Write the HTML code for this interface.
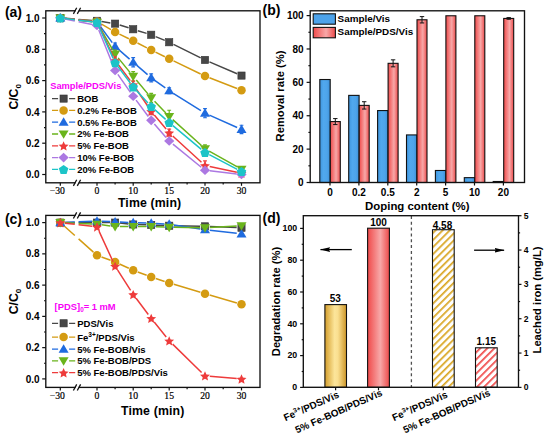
<!DOCTYPE html>
<html><head><meta charset="utf-8"><style>
html,body{margin:0;padding:0;background:#fff;}
svg{display:block;}
</style></head><body>
<svg width="550" height="440" viewBox="0 0 550 440">
<defs>
<linearGradient id="gb" x1="0" x2="1" y1="0" y2="0"><stop offset="0" stop-color="#3F95DD"/><stop offset="0.35" stop-color="#50A8EE"/><stop offset="0.7" stop-color="#4EA4EA"/><stop offset="1" stop-color="#3A8ED6"/></linearGradient>
<linearGradient id="gr" x1="0" x2="1" y1="0" y2="0"><stop offset="0" stop-color="#F04A4A"/><stop offset="0.58" stop-color="#F7A8A8"/><stop offset="1" stop-color="#EC4A4A"/></linearGradient>
<linearGradient id="gg" x1="0" x2="1" y1="0" y2="0"><stop offset="0" stop-color="#D49E2C"/><stop offset="0.45" stop-color="#FCE59A"/><stop offset="0.6" stop-color="#FADF90"/><stop offset="1" stop-color="#CC9628"/></linearGradient>
<pattern id="hg" width="5" height="5" patternUnits="userSpaceOnUse" patternTransform="rotate(45)"><rect width="5" height="5" fill="#fff"/><rect width="1.7" height="5" fill="#D9A521"/></pattern>
<pattern id="hr" width="5" height="5" patternUnits="userSpaceOnUse" patternTransform="rotate(45)"><rect width="5" height="5" fill="#fff"/><rect width="1.7" height="5" fill="#F04848"/></pattern>
<marker id="ah" markerWidth="10" markerHeight="5" refX="9.6" refY="2.5" orient="auto" markerUnits="userSpaceOnUse"><path d="M0 0.2L10 2.5L0 4.8L1.2 2.5Z" fill="#000"/></marker>
</defs>
<rect width="550" height="440" fill="#fff"/>
<path d="M65.09 18.37L74.8 19.11M78.6 19.4L92.21 20.45M101.74 21.56L110.36 22.9M119.68 25.06L128.62 27.84M137.79 30.67L146.61 33.35M155.63 36.59L164.77 40.41M173.5 44.38L200.7 57.82M209.41 61.83L237.09 73.7" stroke="#474747" stroke-width="1.5" fill="none"/>
<rect x="56.7" y="14.4" width="7.2" height="7.2" fill="#474747" stroke="#333" stroke-width="0.6"/>
<rect x="93.4" y="17.22" width="7.2" height="7.2" fill="#474747" stroke="#333" stroke-width="0.6"/>
<rect x="111.5" y="20.03" width="7.2" height="7.2" fill="#474747" stroke="#333" stroke-width="0.6"/>
<rect x="129.6" y="25.67" width="7.2" height="7.2" fill="#474747" stroke="#333" stroke-width="0.6"/>
<rect x="147.6" y="31.15" width="7.2" height="7.2" fill="#474747" stroke="#333" stroke-width="0.6"/>
<rect x="165.6" y="38.66" width="7.2" height="7.2" fill="#474747" stroke="#333" stroke-width="0.6"/>
<rect x="201.4" y="56.34" width="7.2" height="7.2" fill="#474747" stroke="#333" stroke-width="0.6"/>
<rect x="237.9" y="71.99" width="7.2" height="7.2" fill="#474747" stroke="#333" stroke-width="0.6"/>
<path d="M65.08 18.45L74.8 19.36M78.6 19.72L92.22 20.99M101.14 23.88L110.96 29.65M119.42 34.18L128.88 38.76M137.47 43.04L146.93 47.89M155.52 52.18L164.88 56.75M173.53 60.93L200.67 73.98M209.47 77.81L237.03 88.56" stroke="#D49B12" stroke-width="1.5" fill="none"/>
<circle cx="60.3" cy="18" r="4.25" fill="#D49B12"/>
<circle cx="97" cy="21.44" r="4.25" fill="#D49B12"/>
<circle cx="115.1" cy="32.09" r="4.25" fill="#D49B12"/>
<circle cx="133.2" cy="40.85" r="4.25" fill="#D49B12"/>
<circle cx="151.2" cy="50.08" r="4.25" fill="#D49B12"/>
<circle cx="169.2" cy="58.85" r="4.25" fill="#D49B12"/>
<circle cx="205" cy="76.06" r="4.25" fill="#D49B12"/>
<circle cx="241.5" cy="90.3" r="4.25" fill="#D49B12"/>
<path d="M65.07 18.51L74.8 19.55M78.6 19.95L92.23 21.4M99.85 25.78L112.25 42.62M118.72 49.64L129.58 59.13M136.84 65.42L147.56 74.65M155.09 80.59L165.31 87.96M173.27 93.32L200.93 110.61M209.38 115.11L237.12 127.47" stroke="#1F6BDF" stroke-width="1.5" fill="none"/>
<polygon points="60.3,13.13 65.3,21.53 55.3,21.53" fill="#1F6BDF"/>
<polygon points="97,17.04 102,25.44 92,25.44" fill="#1F6BDF"/>
<path d="M115.1 42.98V49.98M113.2 42.98H117M113.2 49.98H117" stroke="#1F6BDF" stroke-width="1.2"/>
<polygon points="115.1,41.61 120.1,50.01 110.1,50.01" fill="#1F6BDF"/>
<path d="M133.2 57.69V66.89M131.3 57.69H135.1M131.3 66.89H135.1" stroke="#1F6BDF" stroke-width="1.2"/>
<polygon points="133.2,57.42 138.2,65.82 128.2,65.82" fill="#1F6BDF"/>
<path d="M151.2 73.78V81.78M149.3 73.78H153.1M149.3 81.78H153.1" stroke="#1F6BDF" stroke-width="1.2"/>
<polygon points="151.2,72.91 156.2,81.31 146.2,81.31" fill="#1F6BDF"/>
<path d="M169.2 87.77V93.77M167.3 87.77H171.1M167.3 93.77H171.1" stroke="#1F6BDF" stroke-width="1.2"/>
<polygon points="169.2,85.9 174.2,94.3 164.2,94.3" fill="#1F6BDF"/>
<path d="M205 108.55V117.75M203.1 108.55H206.9M203.1 117.75H206.9" stroke="#1F6BDF" stroke-width="1.2"/>
<polygon points="205,108.28 210,116.68 200,116.68" fill="#1F6BDF"/>
<path d="M241.5 125.23V133.63M239.6 125.23H243.4M239.6 133.63H243.4" stroke="#1F6BDF" stroke-width="1.2"/>
<polygon points="241.5,124.56 246.5,132.96 236.5,132.96" fill="#1F6BDF"/>
<path d="M65.07 18.57L74.8 19.73M78.6 20.19L92.23 21.81M99.38 26.55L112.72 49.98M118.13 57.87L130.17 72.65M136.29 80.05L148.11 94.14M154.54 101.27L165.86 112.99M172.77 119.65L201.43 145.47M209.18 151.04L237.32 166.97" stroke="#6AB41C" stroke-width="1.5" fill="none"/>
<polygon points="60.3,22.87 65.3,14.47 55.3,14.47" fill="#6AB41C"/>
<polygon points="97,27.25 102,18.85 92,18.85" fill="#6AB41C"/>
<path d="M115.1 50.15V58.15M113.2 50.15H117M113.2 58.15H117" stroke="#6AB41C" stroke-width="1.2"/>
<polygon points="115.1,59.02 120.1,50.62 110.1,50.62" fill="#6AB41C"/>
<path d="M133.2 71.57V81.17M131.3 71.57H135.1M131.3 81.17H135.1" stroke="#6AB41C" stroke-width="1.2"/>
<polygon points="133.2,81.25 138.2,72.85 128.2,72.85" fill="#6AB41C"/>
<path d="M151.2 93.31V102.31M149.3 93.31H153.1M149.3 102.31H153.1" stroke="#6AB41C" stroke-width="1.2"/>
<polygon points="151.2,102.69 156.2,94.29 146.2,94.29" fill="#6AB41C"/>
<path d="M169.2 110.24V122.64M167.3 110.24H171.1M167.3 122.64H171.1" stroke="#6AB41C" stroke-width="1.2"/>
<polygon points="169.2,121.31 174.2,112.91 164.2,112.91" fill="#6AB41C"/>
<path d="M205 144.88V152.48M203.1 144.88H206.9M203.1 152.48H206.9" stroke="#6AB41C" stroke-width="1.2"/>
<polygon points="205,153.55 210,145.15 200,145.15" fill="#6AB41C"/>
<polygon points="241.5,174.21 246.5,165.81 236.5,165.81" fill="#6AB41C"/>
<path d="M65.07 18.51L74.8 19.55M78.6 19.95L92.23 21.4M99.04 26.26L113.06 56.07M117.98 64.25L130.32 80.67M135.88 88.5L148.52 107.29M154.29 114.95L166.11 129.04M172.74 135.95L201.46 162.19M209.69 166.43L236.81 172.24" stroke="#EE3B3B" stroke-width="1.5" fill="none"/>
<polygon points="60.3,13.4 61.74,16.62 65.25,16.99 62.62,19.36 63.36,22.81 60.3,21.04 57.24,22.81 57.98,19.36 55.35,16.99 58.86,16.62" fill="#EE3B3B"/>
<polygon points="97,17.31 98.44,20.54 101.95,20.91 99.32,23.27 100.06,26.72 97,24.96 93.94,26.72 94.68,23.27 92.05,20.91 95.56,20.54" fill="#EE3B3B"/>
<path d="M115.1 56.91V63.91M113.2 56.91H117M113.2 63.91H117" stroke="#EE3B3B" stroke-width="1.2"/>
<polygon points="115.1,55.81 116.54,59.03 120.05,59.4 117.42,61.77 118.16,65.22 115.1,63.46 112.04,65.22 112.78,61.77 110.15,59.4 113.66,59.03" fill="#EE3B3B"/>
<path d="M133.2 81.01V88.01M131.3 81.01H135.1M131.3 88.01H135.1" stroke="#EE3B3B" stroke-width="1.2"/>
<polygon points="133.2,79.91 134.64,83.14 138.15,83.51 135.52,85.87 136.26,89.32 133.2,87.56 130.14,89.32 130.88,85.87 128.25,83.51 131.76,83.14" fill="#EE3B3B"/>
<path d="M151.2 107.77V114.77M149.3 107.77H153.1M149.3 114.77H153.1" stroke="#EE3B3B" stroke-width="1.2"/>
<polygon points="151.2,106.67 152.64,109.9 156.15,110.27 153.52,112.63 154.26,116.08 151.2,114.32 148.14,116.08 148.88,112.63 146.25,110.27 149.76,109.9" fill="#EE3B3B"/>
<path d="M169.2 129.21V136.21M167.3 129.21H171.1M167.3 136.21H171.1" stroke="#EE3B3B" stroke-width="1.2"/>
<polygon points="169.2,128.11 170.64,131.34 174.15,131.71 171.52,134.07 172.26,137.52 169.2,135.76 166.14,137.52 166.88,134.07 164.25,131.71 167.76,131.34" fill="#EE3B3B"/>
<path d="M205 160.92V169.92M203.1 160.92H206.9M203.1 169.92H206.9" stroke="#EE3B3B" stroke-width="1.2"/>
<polygon points="205,160.82 206.44,164.05 209.95,164.42 207.32,166.78 208.06,170.23 205,168.47 201.94,170.23 202.68,166.78 200.05,164.42 203.56,164.05" fill="#EE3B3B"/>
<polygon points="241.5,168.65 242.94,171.87 246.45,172.24 243.82,174.6 244.56,178.05 241.5,176.29 238.44,178.05 239.18,174.6 236.55,172.24 240.06,171.87" fill="#EE3B3B"/>
<path d="M65 18.96L74.8 20.97M78.6 21.75L92.3 24.55M98.79 29.96L113.31 65.98M117.86 74.36L130.44 92.32M136.07 100.1L148.33 116.51M154.35 123.97L166.05 137.39M172.92 144.05L201.28 167.24M209.77 170.83L236.73 173.95" stroke="#AC78E2" stroke-width="1.5" fill="none"/>
<polygon points="60.3,13.2 65.4,18 60.3,22.8 55.2,18" fill="#AC78E2"/>
<polygon points="97,20.71 102.1,25.51 97,30.31 91.9,25.51" fill="#AC78E2"/>
<polygon points="115.1,65.63 120.2,70.43 115.1,75.23 110,70.43" fill="#AC78E2"/>
<polygon points="133.2,91.45 138.3,96.25 133.2,101.05 128.1,96.25" fill="#AC78E2"/>
<polygon points="151.2,115.55 156.3,120.35 151.2,125.15 146.1,120.35" fill="#AC78E2"/>
<polygon points="169.2,136.21 174.3,141.01 169.2,145.81 164.1,141.01" fill="#AC78E2"/>
<polygon points="205,165.47 210.1,170.27 205,175.07 199.9,170.27" fill="#AC78E2"/>
<polygon points="241.5,169.7 246.6,174.5 241.5,179.3 236.4,174.5" fill="#AC78E2"/>
<path d="M65.07 18.57L74.8 19.73M78.6 20.19L92.23 21.81M98.96 26.76L113.14 58.38M117.98 66.6L130.32 83.02M136.45 90.39L147.95 102.89M154.78 109.62L165.62 119.34M172.88 125.62L201.32 149.36M209.25 154.66L237.25 169.3" stroke="#1CC4C8" stroke-width="1.5" fill="none"/>
<polygon points="60.3,13.5 65.06,16.95 63.24,22.55 57.36,22.55 55.54,16.95" fill="#1CC4C8"/>
<polygon points="97,17.88 101.76,21.34 99.94,26.93 94.06,26.93 92.24,21.34" fill="#1CC4C8"/>
<polygon points="115.1,58.26 119.86,61.71 118.04,67.3 112.16,67.3 110.34,61.71" fill="#1CC4C8"/>
<polygon points="133.2,82.36 137.96,85.81 136.14,91.41 130.26,91.41 128.44,85.81" fill="#1CC4C8"/>
<polygon points="151.2,101.92 155.96,105.38 154.14,110.97 148.26,110.97 146.44,105.38" fill="#1CC4C8"/>
<polygon points="169.2,118.04 173.96,121.5 172.14,127.09 166.26,127.09 164.44,121.5" fill="#1CC4C8"/>
<polygon points="205,147.93 209.76,151.39 207.94,156.98 202.06,156.98 200.24,151.39" fill="#1CC4C8"/>
<polygon points="241.5,167.03 246.26,170.48 244.44,176.07 238.56,176.07 236.74,170.48" fill="#1CC4C8"/>
<rect x="45.8" y="10.8" width="214.2" height="172" fill="none" stroke="#111" stroke-width="1.35"/>
<rect x="75.6" y="9.6" width="3.2" height="2.4" fill="#fff"/>
<path d="M73.4 13.9L76.7 7.8M77.3 13.9L80.6 7.8" stroke="#111" stroke-width="1.3"/>
<rect x="75.6" y="181.6" width="3.2" height="2.4" fill="#fff"/>
<path d="M73.4 185.9L76.7 179.8M77.3 185.9L80.6 179.8" stroke="#111" stroke-width="1.3"/>
<path d="M42.2 174.5H45.8" stroke="#111" stroke-width="1.2"/>
<text x="39.6" y="178.1" font-family='"Liberation Sans", sans-serif' font-size="10" font-weight="bold" fill="#000" text-anchor="end" >0.0</text>
<path d="M44 158.85H45.8" stroke="#111" stroke-width="1.2"/>
<path d="M42.2 143.2H45.8" stroke="#111" stroke-width="1.2"/>
<text x="39.6" y="146.8" font-family='"Liberation Sans", sans-serif' font-size="10" font-weight="bold" fill="#000" text-anchor="end" >0.2</text>
<path d="M44 127.55H45.8" stroke="#111" stroke-width="1.2"/>
<path d="M42.2 111.9H45.8" stroke="#111" stroke-width="1.2"/>
<text x="39.6" y="115.5" font-family='"Liberation Sans", sans-serif' font-size="10" font-weight="bold" fill="#000" text-anchor="end" >0.4</text>
<path d="M44 96.25H45.8" stroke="#111" stroke-width="1.2"/>
<path d="M42.2 80.6H45.8" stroke="#111" stroke-width="1.2"/>
<text x="39.6" y="84.2" font-family='"Liberation Sans", sans-serif' font-size="10" font-weight="bold" fill="#000" text-anchor="end" >0.6</text>
<path d="M44 64.95H45.8" stroke="#111" stroke-width="1.2"/>
<path d="M42.2 49.3H45.8" stroke="#111" stroke-width="1.2"/>
<text x="39.6" y="52.9" font-family='"Liberation Sans", sans-serif' font-size="10" font-weight="bold" fill="#000" text-anchor="end" >0.8</text>
<path d="M44 33.65H45.8" stroke="#111" stroke-width="1.2"/>
<path d="M42.2 18H45.8" stroke="#111" stroke-width="1.2"/>
<text x="39.6" y="21.6" font-family='"Liberation Sans", sans-serif' font-size="10" font-weight="bold" fill="#000" text-anchor="end" >1.0</text>
<path d="M60.3 182.8V185.8" stroke="#111" stroke-width="1.2"/>
<text x="64.9" y="194.4" font-family='"Liberation Serif", serif' font-size="9.7" font-weight="normal" fill="#000" text-anchor="end" stroke="#000" stroke-width="0.2">−30</text>
<path d="M97 182.8V185.8" stroke="#111" stroke-width="1.2"/>
<text x="97" y="194.4" font-family='"Liberation Serif", serif' font-size="9.7" font-weight="normal" fill="#000" text-anchor="middle" stroke="#000" stroke-width="0.2">0</text>
<path d="M133.2 182.8V185.8" stroke="#111" stroke-width="1.2"/>
<text x="133.2" y="194.4" font-family='"Liberation Serif", serif' font-size="9.7" font-weight="normal" fill="#000" text-anchor="middle" stroke="#000" stroke-width="0.2">10</text>
<path d="M169.2 182.8V185.8" stroke="#111" stroke-width="1.2"/>
<text x="169.2" y="194.4" font-family='"Liberation Serif", serif' font-size="9.7" font-weight="normal" fill="#000" text-anchor="middle" stroke="#000" stroke-width="0.2">15</text>
<path d="M205 182.8V185.8" stroke="#111" stroke-width="1.2"/>
<text x="205" y="194.4" font-family='"Liberation Serif", serif' font-size="9.7" font-weight="normal" fill="#000" text-anchor="middle" stroke="#000" stroke-width="0.2">20</text>
<path d="M241.5 182.8V185.8" stroke="#111" stroke-width="1.2"/>
<text x="241.5" y="194.4" font-family='"Liberation Serif", serif' font-size="9.7" font-weight="normal" fill="#000" text-anchor="middle" stroke="#000" stroke-width="0.2">30</text>
<path d="M115.1 182.8V184.6" stroke="#111" stroke-width="1.2"/>
<path d="M151.2 182.8V184.6" stroke="#111" stroke-width="1.2"/>
<path d="M187.1 182.8V184.6" stroke="#111" stroke-width="1.2"/>
<path d="M223.2 182.8V184.6" stroke="#111" stroke-width="1.2"/>
<text x="117.9" y="206.6" font-family='"Liberation Sans", sans-serif' font-size="12.3" font-weight="bold" fill="#000" text-anchor="start" letter-spacing="0.15">Time (min)</text>
<text transform="translate(17.6 109.6) rotate(-90)" x="0" y="0" font-family='"Liberation Sans", sans-serif' font-size="12.2" font-weight="bold">C/C<tspan font-size="8" dy="3.6">0</tspan></text>
<text x="4.9" y="16.8" font-family='"Liberation Sans", sans-serif' font-size="14" font-weight="bold" fill="#000" text-anchor="start" >(a)</text>
<text x="50.2" y="88.8" font-family='"Liberation Sans", sans-serif' font-size="9.3" font-weight="bold" fill="#F700F7" text-anchor="start" >Sample/PDS/Vis</text>
<path d="M52.0 98.6H58.1M69.1 98.6H75.2" stroke="#474747" stroke-width="1.3"/>
<rect x="60" y="95" width="7.2" height="7.2" fill="#474747" stroke="#333" stroke-width="0.6"/>
<text x="77.2" y="102" font-family='"Liberation Sans", sans-serif' font-size="9.5" font-weight="bold" fill="#000" text-anchor="start" >BOB</text>
<path d="M52.0 110.4H58.1M69.1 110.4H75.2" stroke="#D49B12" stroke-width="1.3"/>
<circle cx="63.6" cy="110.4" r="4.25" fill="#D49B12"/>
<text x="77.2" y="113.8" font-family='"Liberation Sans", sans-serif' font-size="9.5" font-weight="bold" fill="#000" text-anchor="start" >0.2% Fe-BOB</text>
<path d="M52.0 122.2H58.1M69.1 122.2H75.2" stroke="#1F6BDF" stroke-width="1.3"/>
<polygon points="63.6,117.33 68.6,125.73 58.6,125.73" fill="#1F6BDF"/>
<text x="77.2" y="125.6" font-family='"Liberation Sans", sans-serif' font-size="9.5" font-weight="bold" fill="#000" text-anchor="start" >0.5% Fe-BOB</text>
<path d="M52.0 134H58.1M69.1 134H75.2" stroke="#6AB41C" stroke-width="1.3"/>
<polygon points="63.6,138.87 68.6,130.47 58.6,130.47" fill="#6AB41C"/>
<text x="77.2" y="137.4" font-family='"Liberation Sans", sans-serif' font-size="9.5" font-weight="bold" fill="#000" text-anchor="start" >2% Fe-BOB</text>
<path d="M52.0 145.8H58.1M69.1 145.8H75.2" stroke="#EE3B3B" stroke-width="1.3"/>
<polygon points="63.6,141.2 65.04,144.42 68.55,144.79 65.92,147.16 66.66,150.61 63.6,148.84 60.54,150.61 61.28,147.16 58.65,144.79 62.16,144.42" fill="#EE3B3B"/>
<text x="77.2" y="149.2" font-family='"Liberation Sans", sans-serif' font-size="9.5" font-weight="bold" fill="#000" text-anchor="start" >5% Fe-BOB</text>
<path d="M52.0 157.6H58.1M69.1 157.6H75.2" stroke="#AC78E2" stroke-width="1.3"/>
<polygon points="63.6,152.8 68.7,157.6 63.6,162.4 58.5,157.6" fill="#AC78E2"/>
<text x="77.2" y="161" font-family='"Liberation Sans", sans-serif' font-size="9.5" font-weight="bold" fill="#000" text-anchor="start" >10% Fe-BOB</text>
<path d="M52.0 169.4H58.1M69.1 169.4H75.2" stroke="#1CC4C8" stroke-width="1.3"/>
<polygon points="63.6,164.9 68.36,168.35 66.54,173.95 60.66,173.95 58.84,168.35" fill="#1CC4C8"/>
<text x="77.2" y="172.8" font-family='"Liberation Sans", sans-serif' font-size="9.5" font-weight="bold" fill="#000" text-anchor="start" >20% Fe-BOB</text>
<path d="M65.1 222.6L74.8 222.6M78.6 222.6L92.2 222.6M101.8 222.6L110.3 222.6M119.87 223.09L128.43 223.98M138 224.6L146.4 224.82M156 225.15L164.4 225.52M174 225.81L200.2 226.27M209.8 226.54L236.7 227.57" stroke="#474747" stroke-width="1.5" fill="none"/>
<rect x="56.7" y="219" width="7.2" height="7.2" fill="#474747" stroke="#333" stroke-width="0.6"/>
<rect x="93.4" y="219" width="7.2" height="7.2" fill="#474747" stroke="#333" stroke-width="0.6"/>
<rect x="111.5" y="219" width="7.2" height="7.2" fill="#474747" stroke="#333" stroke-width="0.6"/>
<rect x="129.6" y="220.88" width="7.2" height="7.2" fill="#474747" stroke="#333" stroke-width="0.6"/>
<rect x="147.6" y="221.34" width="7.2" height="7.2" fill="#474747" stroke="#333" stroke-width="0.6"/>
<rect x="165.6" y="222.13" width="7.2" height="7.2" fill="#474747" stroke="#333" stroke-width="0.6"/>
<rect x="201.4" y="222.75" width="7.2" height="7.2" fill="#474747" stroke="#333" stroke-width="0.6"/>
<rect x="237.9" y="224.16" width="7.2" height="7.2" fill="#474747" stroke="#333" stroke-width="0.6"/>
<path d="M63.89 225.79L74.8 235.51M78.6 238.89L93.41 252.08M101.5 256.94L110.6 260.32M119.46 263.99L128.84 268.27M137.7 271.95L146.7 275.31M155.76 278.5L164.64 281.43M173.8 284.32L200.4 292.33M209.61 295.06L236.89 303" stroke="#D49B12" stroke-width="1.5" fill="none"/>
<circle cx="60.3" cy="222.6" r="4.25" fill="#D49B12"/>
<circle cx="97" cy="255.27" r="4.25" fill="#D49B12"/>
<circle cx="115.1" cy="261.99" r="4.25" fill="#D49B12"/>
<circle cx="133.2" cy="270.27" r="4.25" fill="#D49B12"/>
<circle cx="151.2" cy="276.99" r="4.25" fill="#D49B12"/>
<circle cx="169.2" cy="282.93" r="4.25" fill="#D49B12"/>
<circle cx="205" cy="293.72" r="4.25" fill="#D49B12"/>
<circle cx="241.5" cy="304.34" r="4.25" fill="#D49B12"/>
<path d="M65.1 222.4L74.8 221.98M78.6 221.82L92.2 221.24M101.8 221.24L110.3 221.61M119.9 222.03L128.4 222.39M138 222.77L146.4 223.06M155.99 223.47L164.41 223.91M173.94 224.89L200.26 228.91M209.77 230.18L236.73 233.3" stroke="#1F6BDF" stroke-width="1.5" fill="none"/>
<polygon points="60.3,217.73 65.3,226.13 55.3,226.13" fill="#1F6BDF"/>
<polygon points="97,216.16 102,224.56 92,224.56" fill="#1F6BDF"/>
<polygon points="115.1,216.95 120.1,225.35 110.1,225.35" fill="#1F6BDF"/>
<polygon points="133.2,217.73 138.2,226.13 128.2,226.13" fill="#1F6BDF"/>
<polygon points="151.2,218.35 156.2,226.75 146.2,226.75" fill="#1F6BDF"/>
<polygon points="169.2,219.29 174.2,227.69 164.2,227.69" fill="#1F6BDF"/>
<polygon points="205,224.76 210,233.16 200,233.16" fill="#1F6BDF"/>
<polygon points="241.5,228.98 246.5,237.38 236.5,237.38" fill="#1F6BDF"/>
<path d="M65.1 222.8L74.8 223.22M78.6 223.38L92.2 223.96M101.76 224.78L110.34 225.89M119.9 226.51L128.4 226.51M138 226.51L146.4 226.51M156 226.72L164.4 227.08M174 227.35L200.2 227.7M209.79 227.49L236.71 225.99" stroke="#6AB41C" stroke-width="1.5" fill="none"/>
<polygon points="60.3,227.47 65.3,219.07 55.3,219.07" fill="#6AB41C"/>
<polygon points="97,229.03 102,220.63 92,220.63" fill="#6AB41C"/>
<polygon points="115.1,231.38 120.1,222.98 110.1,222.98" fill="#6AB41C"/>
<polygon points="133.2,231.38 138.2,222.98 128.2,222.98" fill="#6AB41C"/>
<polygon points="151.2,231.38 156.2,222.98 146.2,222.98" fill="#6AB41C"/>
<polygon points="169.2,232.16 174.2,223.76 164.2,223.76" fill="#6AB41C"/>
<polygon points="205,232.63 210,224.23 200,224.23" fill="#6AB41C"/>
<polygon points="241.5,230.6 246.5,222.2 236.5,222.2" fill="#6AB41C"/>
<path d="M65.07 223.15L74.8 224.27M78.6 224.7L92.23 226.27M99.01 231.18L113.09 261.69M117.68 270.1L130.62 290.45M136.1 298.32L148.3 314.43M154.2 322L166.2 337.01M172.63 344.12L201.57 372.42M209.78 376.18L236.72 378.49" stroke="#EE3B3B" stroke-width="1.5" fill="none"/>
<polygon points="60.3,218 61.74,221.22 65.25,221.59 62.62,223.96 63.36,227.41 60.3,225.64 57.24,227.41 57.98,223.96 55.35,221.59 58.86,221.22" fill="#EE3B3B"/>
<polygon points="97,222.22 98.44,225.44 101.95,225.81 99.32,228.18 100.06,231.63 97,229.86 93.94,231.63 94.68,228.18 92.05,225.81 95.56,225.44" fill="#EE3B3B"/>
<polygon points="115.1,261.45 116.54,264.67 120.05,265.04 117.42,267.41 118.16,270.86 115.1,269.1 112.04,270.86 112.78,267.41 110.15,265.04 113.66,264.67" fill="#EE3B3B"/>
<polygon points="133.2,289.9 134.64,293.12 138.15,293.49 135.52,295.85 136.26,299.3 133.2,297.54 130.14,299.3 130.88,295.85 128.25,293.49 131.76,293.12" fill="#EE3B3B"/>
<polygon points="151.2,313.66 152.64,316.88 156.15,317.25 153.52,319.61 154.26,323.06 151.2,321.3 148.14,323.06 148.88,319.61 146.25,317.25 149.76,316.88" fill="#EE3B3B"/>
<polygon points="169.2,336.16 170.64,339.39 174.15,339.76 171.52,342.12 172.26,345.57 169.2,343.81 166.14,345.57 166.88,342.12 164.25,339.76 167.76,339.39" fill="#EE3B3B"/>
<polygon points="205,371.17 206.44,374.4 209.95,374.77 207.32,377.13 208.06,380.58 205,378.82 201.94,380.58 202.68,377.13 200.05,374.77 203.56,374.4" fill="#EE3B3B"/>
<polygon points="241.5,374.3 242.94,377.52 246.45,377.89 243.82,380.26 244.56,383.71 241.5,381.94 238.44,383.71 239.18,380.26 236.55,377.89 240.06,377.52" fill="#EE3B3B"/>
<rect x="45.8" y="215.4" width="214.2" height="172" fill="none" stroke="#111" stroke-width="1.35"/>
<rect x="75.6" y="214.2" width="3.2" height="2.4" fill="#fff"/>
<path d="M73.4 218.5L76.7 212.4M77.3 218.5L80.6 212.4" stroke="#111" stroke-width="1.3"/>
<rect x="75.6" y="386.2" width="3.2" height="2.4" fill="#fff"/>
<path d="M73.4 390.5L76.7 384.4M77.3 390.5L80.6 384.4" stroke="#111" stroke-width="1.3"/>
<path d="M42.2 378.9H45.8" stroke="#111" stroke-width="1.2"/>
<text x="39.6" y="382.5" font-family='"Liberation Sans", sans-serif' font-size="10" font-weight="bold" fill="#000" text-anchor="end" >0.0</text>
<path d="M44 363.27H45.8" stroke="#111" stroke-width="1.2"/>
<path d="M42.2 347.64H45.8" stroke="#111" stroke-width="1.2"/>
<text x="39.6" y="351.24" font-family='"Liberation Sans", sans-serif' font-size="10" font-weight="bold" fill="#000" text-anchor="end" >0.2</text>
<path d="M44 332.01H45.8" stroke="#111" stroke-width="1.2"/>
<path d="M42.2 316.38H45.8" stroke="#111" stroke-width="1.2"/>
<text x="39.6" y="319.98" font-family='"Liberation Sans", sans-serif' font-size="10" font-weight="bold" fill="#000" text-anchor="end" >0.4</text>
<path d="M44 300.75H45.8" stroke="#111" stroke-width="1.2"/>
<path d="M42.2 285.12H45.8" stroke="#111" stroke-width="1.2"/>
<text x="39.6" y="288.72" font-family='"Liberation Sans", sans-serif' font-size="10" font-weight="bold" fill="#000" text-anchor="end" >0.6</text>
<path d="M44 269.49H45.8" stroke="#111" stroke-width="1.2"/>
<path d="M42.2 253.86H45.8" stroke="#111" stroke-width="1.2"/>
<text x="39.6" y="257.46" font-family='"Liberation Sans", sans-serif' font-size="10" font-weight="bold" fill="#000" text-anchor="end" >0.8</text>
<path d="M44 238.23H45.8" stroke="#111" stroke-width="1.2"/>
<path d="M42.2 222.6H45.8" stroke="#111" stroke-width="1.2"/>
<text x="39.6" y="226.2" font-family='"Liberation Sans", sans-serif' font-size="10" font-weight="bold" fill="#000" text-anchor="end" >1.0</text>
<path d="M60.3 387.4V390.4" stroke="#111" stroke-width="1.2"/>
<text x="64.9" y="399" font-family='"Liberation Serif", serif' font-size="9.7" font-weight="normal" fill="#000" text-anchor="end" stroke="#000" stroke-width="0.2">−30</text>
<path d="M97 387.4V390.4" stroke="#111" stroke-width="1.2"/>
<text x="97" y="399" font-family='"Liberation Serif", serif' font-size="9.7" font-weight="normal" fill="#000" text-anchor="middle" stroke="#000" stroke-width="0.2">0</text>
<path d="M133.2 387.4V390.4" stroke="#111" stroke-width="1.2"/>
<text x="133.2" y="399" font-family='"Liberation Serif", serif' font-size="9.7" font-weight="normal" fill="#000" text-anchor="middle" stroke="#000" stroke-width="0.2">10</text>
<path d="M169.2 387.4V390.4" stroke="#111" stroke-width="1.2"/>
<text x="169.2" y="399" font-family='"Liberation Serif", serif' font-size="9.7" font-weight="normal" fill="#000" text-anchor="middle" stroke="#000" stroke-width="0.2">15</text>
<path d="M205 387.4V390.4" stroke="#111" stroke-width="1.2"/>
<text x="205" y="399" font-family='"Liberation Serif", serif' font-size="9.7" font-weight="normal" fill="#000" text-anchor="middle" stroke="#000" stroke-width="0.2">20</text>
<path d="M241.5 387.4V390.4" stroke="#111" stroke-width="1.2"/>
<text x="241.5" y="399" font-family='"Liberation Serif", serif' font-size="9.7" font-weight="normal" fill="#000" text-anchor="middle" stroke="#000" stroke-width="0.2">30</text>
<path d="M115.1 387.4V389.2" stroke="#111" stroke-width="1.2"/>
<path d="M151.2 387.4V389.2" stroke="#111" stroke-width="1.2"/>
<path d="M187.1 387.4V389.2" stroke="#111" stroke-width="1.2"/>
<path d="M223.2 387.4V389.2" stroke="#111" stroke-width="1.2"/>
<text x="121" y="414.6" font-family='"Liberation Sans", sans-serif' font-size="12.3" font-weight="bold" fill="#000" text-anchor="start" letter-spacing="0.15">Time (min)</text>
<text transform="translate(17.6 314.2) rotate(-90)" x="0" y="0" font-family='"Liberation Sans", sans-serif' font-size="12.2" font-weight="bold">C/C<tspan font-size="8" dy="3.6">0</tspan></text>
<text x="4.9" y="224.2" font-family='"Liberation Sans", sans-serif' font-size="14" font-weight="bold" fill="#000" text-anchor="start" >(c)</text>
<text x="54.6" y="309.8" font-family='"Liberation Sans", sans-serif' font-size="9.4" font-weight="bold" fill="#F700F7">[PDS]<tspan font-size="6.3" dy="2.4">0</tspan><tspan dy="-2.4">= 1 mM</tspan></text>
<path d="M52.0 323.3H58.1M69.1 323.3H75.2" stroke="#474747" stroke-width="1.3"/>
<rect x="60" y="319.7" width="7.2" height="7.2" fill="#474747" stroke="#333" stroke-width="0.6"/>
<text x="77.2" y="326.7" font-family='"Liberation Sans", sans-serif' font-size="9.5" font-weight="bold" fill="#000" text-anchor="start" >PDS/Vis</text>
<path d="M52.0 337.1H58.1M69.1 337.1H75.2" stroke="#D49B12" stroke-width="1.3"/>
<circle cx="63.6" cy="337.1" r="4.25" fill="#D49B12"/>
<text x="77.2" y="340.5" font-family='"Liberation Sans", sans-serif' font-size="9.5" font-weight="bold" fill="#000" text-anchor="start" >Fe<tspan font-size="6.5" dy="-4">3+</tspan><tspan dy="4">/PDS/Vis</tspan></text>
<path d="M52.0 349.2H58.1M69.1 349.2H75.2" stroke="#1F6BDF" stroke-width="1.3"/>
<polygon points="63.6,344.33 68.6,352.73 58.6,352.73" fill="#1F6BDF"/>
<text x="77.2" y="352.6" font-family='"Liberation Sans", sans-serif' font-size="9.5" font-weight="bold" fill="#000" text-anchor="start" >5% Fe-BOB/Vis</text>
<path d="M52.0 360.9H58.1M69.1 360.9H75.2" stroke="#6AB41C" stroke-width="1.3"/>
<polygon points="63.6,365.77 68.6,357.37 58.6,357.37" fill="#6AB41C"/>
<text x="77.2" y="364.3" font-family='"Liberation Sans", sans-serif' font-size="9.5" font-weight="bold" fill="#000" text-anchor="start" >5% Fe-BOB/PDS</text>
<path d="M52.0 372.7H58.1M69.1 372.7H75.2" stroke="#EE3B3B" stroke-width="1.3"/>
<polygon points="63.6,368.1 65.04,371.32 68.55,371.69 65.92,374.06 66.66,377.51 63.6,375.74 60.54,377.51 61.28,374.06 58.65,371.69 62.16,371.32" fill="#EE3B3B"/>
<text x="77.2" y="376.1" font-family='"Liberation Sans", sans-serif' font-size="9.5" font-weight="bold" fill="#000" text-anchor="start" >5% Fe-BOB/PDS/Vis</text>
<rect x="319.8" y="79.52" width="10.4" height="102.98" fill="url(#gb)" stroke="#111" stroke-width="1.1"/>
<rect x="330.3" y="121.58" width="10.0" height="60.92" fill="url(#gr)" stroke="#111" stroke-width="1.1"/>
<path d="M335.3 118.58V124.59M333.1 118.58H337.5M333.1 124.59H337.5" stroke="#111" stroke-width="1"/>
<rect x="348.7" y="95.38" width="10.4" height="87.12" fill="url(#gb)" stroke="#111" stroke-width="1.1"/>
<rect x="359.2" y="105.39" width="10.0" height="77.11" fill="url(#gr)" stroke="#111" stroke-width="1.1"/>
<path d="M364.2 101.72V109.06M362 101.72H366.4M362 109.06H366.4" stroke="#111" stroke-width="1"/>
<rect x="377.6" y="110.57" width="10.4" height="71.93" fill="url(#gb)" stroke="#111" stroke-width="1.1"/>
<rect x="388.1" y="63.33" width="10.0" height="119.17" fill="url(#gr)" stroke="#111" stroke-width="1.1"/>
<path d="M393.1 59.83V66.84M390.9 59.83H395.3M390.9 66.84H395.3" stroke="#111" stroke-width="1"/>
<rect x="406.5" y="134.93" width="10.4" height="47.57" fill="url(#gb)" stroke="#111" stroke-width="1.1"/>
<rect x="417" y="19.77" width="10.0" height="162.73" fill="url(#gr)" stroke="#111" stroke-width="1.1"/>
<path d="M422 16.6V22.94M419.8 16.6H424.2M419.8 22.94H424.2" stroke="#111" stroke-width="1"/>
<rect x="435.4" y="170.48" width="10.4" height="12.02" fill="url(#gb)" stroke="#111" stroke-width="1.1"/>
<rect x="445.9" y="15.77" width="10.0" height="166.73" fill="url(#gr)" stroke="#111" stroke-width="1.1"/>
<rect x="464.3" y="177.66" width="10.4" height="4.84" fill="url(#gb)" stroke="#111" stroke-width="1.1"/>
<rect x="474.8" y="15.77" width="10.0" height="166.73" fill="url(#gr)" stroke="#111" stroke-width="1.1"/>
<rect x="493.2" y="181.5" width="10.4" height="1" fill="url(#gb)" stroke="#111" stroke-width="1.1"/>
<rect x="503.7" y="18.44" width="10.0" height="164.06" fill="url(#gr)" stroke="#111" stroke-width="1.1"/>
<path d="M508.7 17.6V19.27M506.5 17.6H510.9M506.5 19.27H510.9" stroke="#111" stroke-width="1"/>
<rect x="310.2" y="10.8" width="214.3" height="171.7" fill="none" stroke="#111" stroke-width="1.35"/>
<path d="M306.6 182.5H310.2" stroke="#111" stroke-width="1.2"/>
<text x="303.6" y="186.1" font-family='"Liberation Sans", sans-serif' font-size="10" font-weight="bold" fill="#000" text-anchor="end" >0</text>
<path d="M308.4 165.81H310.2" stroke="#111" stroke-width="1.2"/>
<path d="M306.6 149.12H310.2" stroke="#111" stroke-width="1.2"/>
<text x="303.6" y="152.72" font-family='"Liberation Sans", sans-serif' font-size="10" font-weight="bold" fill="#000" text-anchor="end" >20</text>
<path d="M308.4 132.43H310.2" stroke="#111" stroke-width="1.2"/>
<path d="M306.6 115.74H310.2" stroke="#111" stroke-width="1.2"/>
<text x="303.6" y="119.34" font-family='"Liberation Sans", sans-serif' font-size="10" font-weight="bold" fill="#000" text-anchor="end" >40</text>
<path d="M308.4 99.05H310.2" stroke="#111" stroke-width="1.2"/>
<path d="M306.6 82.36H310.2" stroke="#111" stroke-width="1.2"/>
<text x="303.6" y="85.96" font-family='"Liberation Sans", sans-serif' font-size="10" font-weight="bold" fill="#000" text-anchor="end" >60</text>
<path d="M308.4 65.67H310.2" stroke="#111" stroke-width="1.2"/>
<path d="M306.6 48.98H310.2" stroke="#111" stroke-width="1.2"/>
<text x="303.6" y="52.58" font-family='"Liberation Sans", sans-serif' font-size="10" font-weight="bold" fill="#000" text-anchor="end" >80</text>
<path d="M308.4 32.29H310.2" stroke="#111" stroke-width="1.2"/>
<path d="M306.6 15.6H310.2" stroke="#111" stroke-width="1.2"/>
<text x="303.6" y="19.2" font-family='"Liberation Sans", sans-serif' font-size="10" font-weight="bold" fill="#000" text-anchor="end" >100</text>
<path d="M330 182.5V185.5" stroke="#111" stroke-width="1.2"/>
<text x="330" y="195.6" font-family='"Liberation Sans", sans-serif' font-size="10" font-weight="bold" fill="#000" text-anchor="middle" >0</text>
<path d="M358.9 182.5V185.5" stroke="#111" stroke-width="1.2"/>
<text x="358.9" y="195.6" font-family='"Liberation Sans", sans-serif' font-size="10" font-weight="bold" fill="#000" text-anchor="middle" >0.2</text>
<path d="M387.8 182.5V185.5" stroke="#111" stroke-width="1.2"/>
<text x="387.8" y="195.6" font-family='"Liberation Sans", sans-serif' font-size="10" font-weight="bold" fill="#000" text-anchor="middle" >0.5</text>
<path d="M416.7 182.5V185.5" stroke="#111" stroke-width="1.2"/>
<text x="416.7" y="195.6" font-family='"Liberation Sans", sans-serif' font-size="10" font-weight="bold" fill="#000" text-anchor="middle" >2</text>
<path d="M445.6 182.5V185.5" stroke="#111" stroke-width="1.2"/>
<text x="445.6" y="195.6" font-family='"Liberation Sans", sans-serif' font-size="10" font-weight="bold" fill="#000" text-anchor="middle" >5</text>
<path d="M474.5 182.5V185.5" stroke="#111" stroke-width="1.2"/>
<text x="474.5" y="195.6" font-family='"Liberation Sans", sans-serif' font-size="10" font-weight="bold" fill="#000" text-anchor="middle" >10</text>
<path d="M503.4 182.5V185.5" stroke="#111" stroke-width="1.2"/>
<text x="503.4" y="195.6" font-family='"Liberation Sans", sans-serif' font-size="10" font-weight="bold" fill="#000" text-anchor="middle" >20</text>
<rect x="313.2" y="13.8" width="22.2" height="10.4" fill="#4DA3EA" stroke="#111" stroke-width="1.1"/>
<rect x="313.2" y="27.4" width="22.2" height="10.4" fill="url(#gr)" stroke="#111" stroke-width="1.1"/>
<text x="337.6" y="22.1" font-family='"Liberation Sans", sans-serif' font-size="9.9" font-weight="bold" fill="#000" text-anchor="start" >Sample/Vis</text>
<text x="337.6" y="35" font-family='"Liberation Sans", sans-serif' font-size="9.9" font-weight="bold" fill="#000" text-anchor="start" >Sample/PDS/Vis</text>
<text x="417.3" y="210.3" font-family='"Liberation Sans", sans-serif' font-size="11.4" font-weight="bold" fill="#000" text-anchor="middle" >Doping content (%)</text>
<text transform="translate(284.2 96) rotate(-90)" font-family='"Liberation Sans", sans-serif' font-size="11.2" font-weight="bold" text-anchor="middle">Removal rate (%)</text>
<text x="262.6" y="15" font-family='"Liberation Sans", sans-serif' font-size="14" font-weight="bold" fill="#000" text-anchor="start" >(b)</text>
<rect x="324.9" y="304.6" width="21.6" height="82.7" fill="url(#gg)" stroke="#111" stroke-width="1.1"/>
<rect x="367.6" y="228.2" width="21.8" height="159.1" fill="url(#gr)" stroke="#111" stroke-width="1.1"/>
<rect x="432.5" y="229.7" width="21.7" height="157.6" fill="url(#hg)" stroke="#111" stroke-width="1.1"/>
<rect x="475.5" y="347.8" width="21.7" height="39.5" fill="url(#hr)" stroke="#111" stroke-width="1.1"/>
<text x="335.2" y="301.9" font-family='"Liberation Sans", sans-serif' font-size="10" font-weight="bold" fill="#000" text-anchor="middle" >53</text>
<text x="378.6" y="226.1" font-family='"Liberation Sans", sans-serif' font-size="10" font-weight="bold" fill="#000" text-anchor="middle" >100</text>
<text x="442.5" y="228.6" font-family='"Liberation Sans", sans-serif' font-size="10" font-weight="bold" fill="#000" text-anchor="middle" >4.58</text>
<text x="486.3" y="345.4" font-family='"Liberation Sans", sans-serif' font-size="10" font-weight="bold" fill="#000" text-anchor="middle" >1.15</text>
<path d="M411.4 215.7V387.3" stroke="#505050" stroke-width="1.3" stroke-dasharray="3 2.83" stroke-dashoffset="-0.2"/>
<path d="M351.8 249.6H320.5" stroke="#000" stroke-width="1.3" marker-end="url(#ah)"/>
<path d="M474.1 250.2H504.1" stroke="#000" stroke-width="1.3" marker-end="url(#ah)"/>
<rect x="303.3" y="215.7" width="215.2" height="171.6" fill="none" stroke="#111" stroke-width="1.35"/>
<path d="M300.1 387.4H303.3" stroke="#111" stroke-width="1.2"/>
<text x="297.2" y="390.1" font-family='"Liberation Sans", sans-serif' font-size="8.8" font-weight="bold" fill="#000" text-anchor="end" >0</text>
<path d="M301.7 371.5H303.3" stroke="#111" stroke-width="1.2"/>
<path d="M300.1 355.6H303.3" stroke="#111" stroke-width="1.2"/>
<text x="297.2" y="358.3" font-family='"Liberation Sans", sans-serif' font-size="8.8" font-weight="bold" fill="#000" text-anchor="end" >20</text>
<path d="M301.7 339.7H303.3" stroke="#111" stroke-width="1.2"/>
<path d="M300.1 323.8H303.3" stroke="#111" stroke-width="1.2"/>
<text x="297.2" y="326.5" font-family='"Liberation Sans", sans-serif' font-size="8.8" font-weight="bold" fill="#000" text-anchor="end" >40</text>
<path d="M301.7 307.9H303.3" stroke="#111" stroke-width="1.2"/>
<path d="M300.1 292H303.3" stroke="#111" stroke-width="1.2"/>
<text x="297.2" y="294.7" font-family='"Liberation Sans", sans-serif' font-size="8.8" font-weight="bold" fill="#000" text-anchor="end" >60</text>
<path d="M301.7 276.1H303.3" stroke="#111" stroke-width="1.2"/>
<path d="M300.1 260.2H303.3" stroke="#111" stroke-width="1.2"/>
<text x="297.2" y="262.9" font-family='"Liberation Sans", sans-serif' font-size="8.8" font-weight="bold" fill="#000" text-anchor="end" >80</text>
<path d="M301.7 244.3H303.3" stroke="#111" stroke-width="1.2"/>
<path d="M300.1 228.4H303.3" stroke="#111" stroke-width="1.2"/>
<text x="297.2" y="231.1" font-family='"Liberation Sans", sans-serif' font-size="8.8" font-weight="bold" fill="#000" text-anchor="end" >100</text>
<path d="M518.5 387.4H521.5" stroke="#111" stroke-width="1.2"/>
<text x="523.8" y="390.4" font-family='"Liberation Sans", sans-serif' font-size="8.6" font-weight="bold" fill="#000" text-anchor="start" >0</text>
<path d="M518.5 370.23H520.1" stroke="#111" stroke-width="1.2"/>
<path d="M518.5 353.06H521.5" stroke="#111" stroke-width="1.2"/>
<text x="523.8" y="356.06" font-family='"Liberation Sans", sans-serif' font-size="8.6" font-weight="bold" fill="#000" text-anchor="start" >1</text>
<path d="M518.5 335.89H520.1" stroke="#111" stroke-width="1.2"/>
<path d="M518.5 318.72H521.5" stroke="#111" stroke-width="1.2"/>
<text x="523.8" y="321.72" font-family='"Liberation Sans", sans-serif' font-size="8.6" font-weight="bold" fill="#000" text-anchor="start" >2</text>
<path d="M518.5 301.55H520.1" stroke="#111" stroke-width="1.2"/>
<path d="M518.5 284.38H521.5" stroke="#111" stroke-width="1.2"/>
<text x="523.8" y="287.38" font-family='"Liberation Sans", sans-serif' font-size="8.6" font-weight="bold" fill="#000" text-anchor="start" >3</text>
<path d="M518.5 267.21H520.1" stroke="#111" stroke-width="1.2"/>
<path d="M518.5 250.04H521.5" stroke="#111" stroke-width="1.2"/>
<text x="523.8" y="253.04" font-family='"Liberation Sans", sans-serif' font-size="8.6" font-weight="bold" fill="#000" text-anchor="start" >4</text>
<path d="M518.5 232.87H520.1" stroke="#111" stroke-width="1.2"/>
<path d="M518.5 215.7H521.5" stroke="#111" stroke-width="1.2"/>
<text x="523.8" y="218.7" font-family='"Liberation Sans", sans-serif' font-size="8.6" font-weight="bold" fill="#000" text-anchor="start" >5</text>
<path d="M335.6 387.3V390.3" stroke="#111" stroke-width="1.2"/>
<path d="M378.5 387.3V390.3" stroke="#111" stroke-width="1.2"/>
<path d="M443.3 387.3V390.3" stroke="#111" stroke-width="1.2"/>
<path d="M486 387.3V390.3" stroke="#111" stroke-width="1.2"/>
<text transform="translate(339.7 397.1) rotate(-24)" font-family='"Liberation Sans", sans-serif' font-size="9.9" font-weight="bold" text-anchor="end">Fe<tspan font-size="6.5" dy="-4">3+</tspan><tspan dy="4">/PDS/Vis</tspan></text>
<text transform="translate(383.0 395.2) rotate(-24)" font-family='"Liberation Sans", sans-serif' font-size="9.9" font-weight="bold" text-anchor="end">5% Fe-BOB/PDS/Vis</text>
<text transform="translate(448.3 397.1) rotate(-24)" font-family='"Liberation Sans", sans-serif' font-size="9.9" font-weight="bold" text-anchor="end">Fe<tspan font-size="6.5" dy="-4">3+</tspan><tspan dy="4">/PDS/Vis</tspan></text>
<text transform="translate(491.0 395.2) rotate(-24)" font-family='"Liberation Sans", sans-serif' font-size="9.9" font-weight="bold" text-anchor="end">5% Fe-BOB/PDS/Vis</text>
<text transform="translate(279.6 301.5) rotate(-90)" font-family='"Liberation Sans", sans-serif' font-size="11.2" font-weight="bold" text-anchor="middle">Degradation rate (%)</text>
<text transform="translate(541.3 300) rotate(-90)" font-family='"Liberation Sans", sans-serif' font-size="11.2" font-weight="bold" text-anchor="middle">Leached iron (mg/L)</text>
<text x="262.6" y="222.8" font-family='"Liberation Sans", sans-serif' font-size="14" font-weight="bold" fill="#000" text-anchor="start" >(d)</text>
</svg>
</body></html>
